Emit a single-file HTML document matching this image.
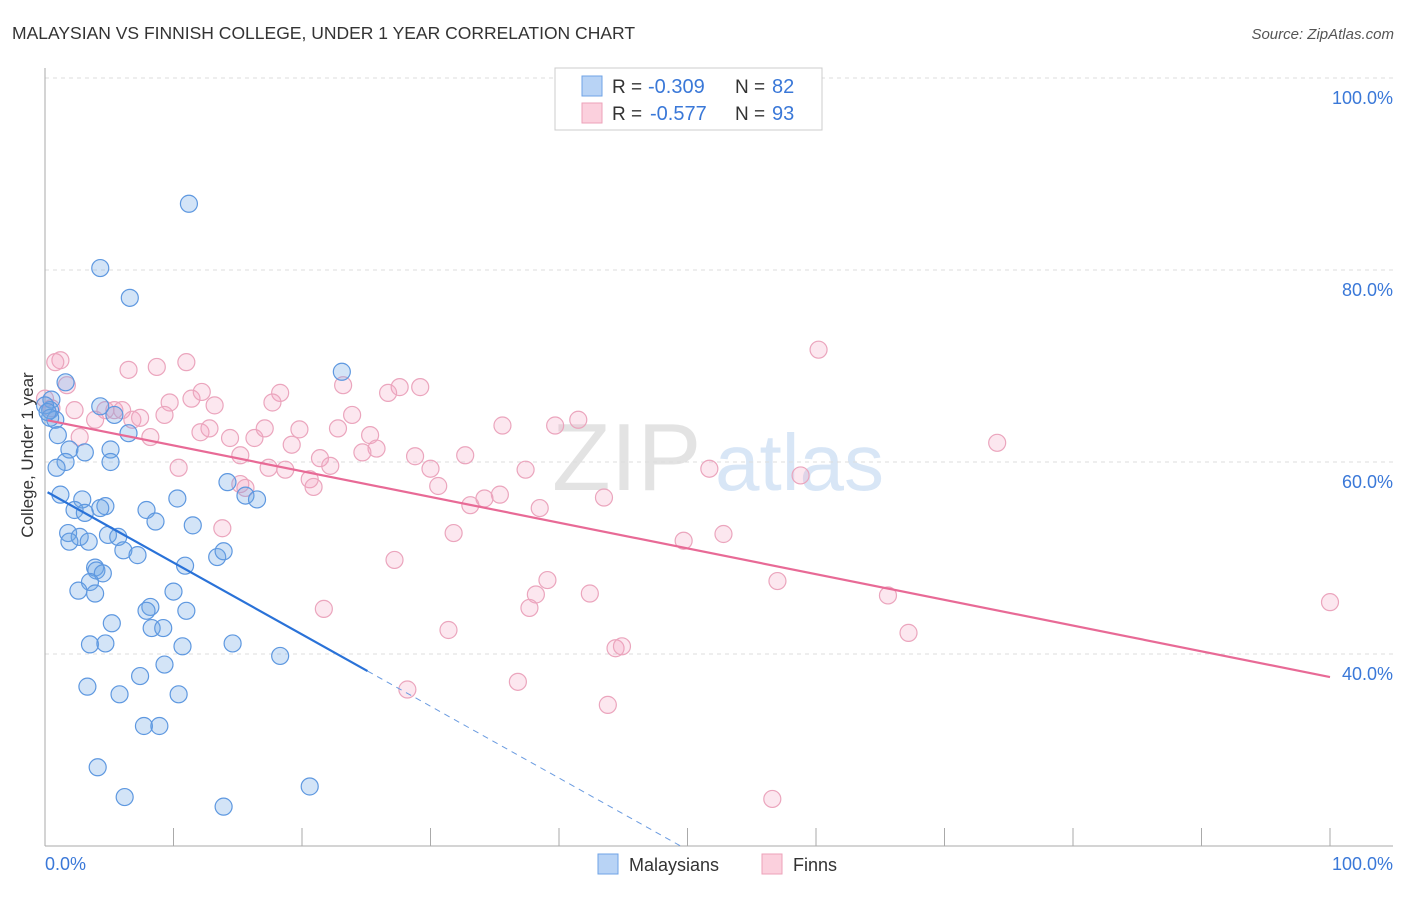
<!DOCTYPE html>
<html><head><meta charset="utf-8"><style>
body{margin:0;background:#fff;font-family:"Liberation Sans",sans-serif}
svg text{font-family:"Liberation Sans",sans-serif}
</style></head><body>
<svg id="chart" width="1406" height="892">
<text x="12" y="39" font-size="17.5" fill="#333">MALAYSIAN VS FINNISH COLLEGE, UNDER 1 YEAR CORRELATION CHART</text>
<text x="1394" y="39" font-size="15" fill="#555" font-style="italic" text-anchor="end">Source: ZipAtlas.com</text>
<g><text x="552" y="490" font-size="96" fill="#ddd" font-family="Liberation Serif" opacity="0.8">ZIP</text><text x="715" y="490" font-size="80" fill="#cfe0f5" opacity="0.8">atlas</text></g>
<g id="grid"></g><g id="axes"></g><g id="marks"></g>
<text x="33" y="455" font-size="17" fill="#333" text-anchor="middle" transform="rotate(-90 33 455)">College, Under 1 year</text>
<g>
<rect x="555" y="68" width="267" height="62" fill="#fff" stroke="#ccc"/>
<rect x="582" y="76" width="20" height="20" fill="#b8d3f5" stroke="#6fa3e6"/>
<rect x="582" y="103" width="20" height="20" fill="#fbd0dd" stroke="#eca2b9"/>
<text x="612" y="93" font-size="19" fill="#333">R =</text><text x="648" y="93" font-size="20" fill="#3a78d8">-0.309</text>
<text x="735" y="93" font-size="19" fill="#333">N =</text><text x="772" y="93" font-size="20" fill="#3a78d8">82</text>
<text x="612" y="120" font-size="19" fill="#333">R =</text><text x="650" y="120" font-size="20" fill="#3a78d8">-0.577</text>
<text x="735" y="120" font-size="19" fill="#333">N =</text><text x="772" y="120" font-size="20" fill="#3a78d8">93</text>
</g>
<g>
<rect x="598" y="854" width="20" height="20" fill="#b8d3f5" stroke="#6fa3e6"/><text x="629" y="871" font-size="18" fill="#333">Malaysians</text>
<rect x="762" y="854" width="20" height="20" fill="#fbd0dd" stroke="#eca2b9"/><text x="793" y="871" font-size="18" fill="#333">Finns</text>
</g>
</svg>
<script>
const yTicks=[40,60,80,100];
const yTickLabels=["40.0%","60.0%","80.0%","100.0%"];
const blueX=[11.2,4.3,6.6,23.1,1.6,0.5,0.4,0.8,4.3,5.4,6.5,1.0,1.9,3.1,1.6,5.1,5.1,0.9,1.2,2.9,4.7,4.3,2.3,3.1,7.9,8.6,10.3,11.5,15.6,16.5,14.2,1.8,2.7,1.9,3.4,4.9,5.7,6.1,7.2,10.9,13.4,13.9,3.9,4.0,4.5,3.5,2.6,3.9,10.0,8.2,7.9,11.0,5.2,8.3,9.2,3.5,4.7,10.7,14.6,18.3,9.3,7.4,3.3,5.8,10.4,7.7,8.9,4.1,6.2,13.9,20.6,0,0.4,0.2];
const blueY=[86.9,80.2,77.1,69.4,68.3,66.5,65.4,64.4,65.8,64.9,63.0,62.8,61.3,61.0,60.0,61.3,60.0,59.4,56.6,56.1,55.4,55.2,55.0,54.7,55.0,53.8,56.2,53.4,56.5,56.1,57.9,52.6,52.2,51.7,51.7,52.4,52.2,50.8,50.3,49.2,50.1,50.7,49.0,48.7,48.4,47.5,46.6,46.3,46.5,44.9,44.5,44.5,43.2,42.7,42.7,41.0,41.1,40.8,41.1,39.8,38.9,37.7,36.6,35.8,35.8,32.5,32.5,28.2,25.1,24.1,26.2,65.9,64.6,65.2];
const pinkX=[1.2,0.8,1.7,6.5,8.7,11.0,60.2,9.7,11.4,12.2,13.2,18.3,17.7,23.2,27.6,29.2,26.7,5.4,6.0,6.8,7.4,9.3,3.9,2.7,8.2,12.1,12.8,14.4,16.3,17.1,19.8,22.8,23.9,25.3,25.8,24.7,19.2,21.4,20.6,20.9,17.4,18.7,22.2,28.8,30.0,32.7,30.6,33.1,34.2,35.4,37.4,38.5,39.7,41.5,35.6,43.5,51.7,58.8,74.1,31.8,27.2,52.8,49.7,39.1,38.2,42.4,37.7,21.7,57.0,65.6,67.2,100,31.4,44.4,44.9,28.2,36.8,43.8,56.6,15.2,15.6,13.8,15.2,10.4,0,0.5,2.3,4.7];
const pinkY=[70.6,70.4,68.0,69.6,69.9,70.4,71.7,66.2,66.6,67.3,65.9,67.2,66.2,68.0,67.8,67.8,67.2,65.4,65.4,64.4,64.6,64.9,64.4,62.6,62.6,63.1,63.5,62.5,62.5,63.5,63.4,63.5,64.9,62.8,61.4,61.0,61.8,60.4,58.2,57.4,59.4,59.2,59.6,60.6,59.3,60.7,57.5,55.5,56.2,56.6,59.2,55.2,63.8,64.4,63.8,56.3,59.3,58.6,62.0,52.6,49.8,52.5,51.8,47.7,46.2,46.3,44.8,44.7,47.6,46.1,42.2,45.4,42.5,40.6,40.8,36.3,37.1,34.7,24.9,57.7,57.3,53.1,60.7,59.4,66.6,65.6,65.4,65.4];
const blueTrend=[57.0,-0.748];
const pinkTrend=[64.4,-0.268];
const NS="http://www.w3.org/2000/svg";
const X0=45,X1=1330,Y100=78,PXPER=9.6,YMIN=20;
function sx(v){return X0+(X1-X0)*v/100;}
function sy(v){return Y100+(100-v)*PXPER;}
function mk(t,a,p){const e=document.createElementNS(NS,t);for(const k in a)e.setAttribute(k,a[k]);p.appendChild(e);return e;}
const grid=document.getElementById('grid'),axes=document.getElementById('axes'),marks=document.getElementById('marks');
yTicks.forEach((t,i)=>{
 const l=mk('line',{x1:45,x2:1393,y1:sy(t),y2:sy(t),stroke:'#ddd','stroke-dasharray':'4,4'},grid);
 
 
 const tx=mk('text',{x:1393,y:sy(t)+26,'font-size':18,fill:'#3a78d8','text-anchor':'end'},grid);
 tx.textContent=yTickLabels[i];
 
 
});
const ya=mk('line',{x1:45,x2:45,y1:68,y2:846,stroke:'#aaa'},axes);


const xa=mk('line',{x1:45,x2:1393,y1:846,y2:846,stroke:'#aaa'},axes);


for(let i=1;i<=10;i++){const t=mk('line',{x1:sx(i*10),x2:sx(i*10),y1:828,y2:846,stroke:'#aaa'},axes);
 
 }
const xl0=mk('text',{x:45,y:870,'font-size':18,fill:'#3a78d8'},axes);xl0.textContent='0.0%';


const xl1=mk('text',{x:1393,y:870,'font-size':18,fill:'#3a78d8','text-anchor':'end'},axes);xl1.textContent='100.0%';


pinkX.forEach((x,i)=>{const c=mk('circle',{cx:sx(x),cy:sy(pinkY[i]),r:8.5,fill:'rgba(244,160,190,0.25)',stroke:'#eba5bd','stroke-width':1.2},marks);
 
 });
blueX.forEach((x,i)=>{const c=mk('circle',{cx:sx(x),cy:sy(blueY[i]),r:8.5,fill:'rgba(110,165,230,0.3)',stroke:'#5e98e0','stroke-width':1.2},marks);
 
 });
const bEnd=25.1,bZero=(YMIN-blueTrend[0])/blueTrend[1];
const bl=mk('line',{x1:sx(0.2),y1:sy(blueTrend[0]+blueTrend[1]*0.2),x2:sx(bEnd),y2:sy(blueTrend[0]+blueTrend[1]*bEnd),stroke:'#2a72d8','stroke-width':2.2},marks);


const bd=mk('line',{x1:sx(bEnd),y1:sy(blueTrend[0]+blueTrend[1]*bEnd),x2:sx(bZero),y2:sy(YMIN),stroke:'#6a9be0','stroke-width':1,'stroke-dasharray':'6,5'},marks);


const pl=mk('line',{x1:sx(0.2),y1:sy(pinkTrend[0]+pinkTrend[1]*0.2),x2:sx(100),y2:sy(pinkTrend[0]+pinkTrend[1]*100),stroke:'#e86a96','stroke-width':2.2},marks);


</script>
</body></html>
